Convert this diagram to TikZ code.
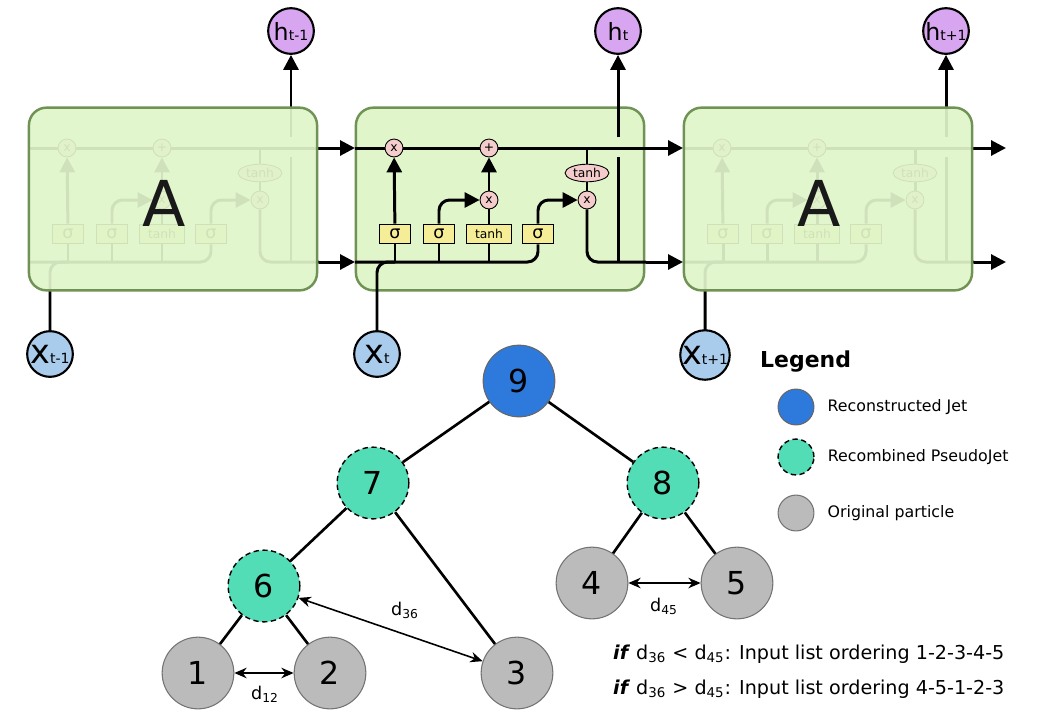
\documentclass[tikz,border=0pt]{standalone}
\usepackage{fontspec}
\setmainfont{DejaVu Sans}
\usetikzlibrary{arrows.meta,positioning,calc,shapes.geometric}
\definecolor{cellgreen}{RGB}{224,245,202}
\definecolor{celledge}{RGB}{112,146,84}
\definecolor{gateyellow}{RGB}{246,238,150}
\definecolor{oppink}{RGB}{244,204,204}
\definecolor{hpurple}{RGB}{216,166,240}
\definecolor{xblue}{RGB}{170,204,236}
\definecolor{jetblue}{RGB}{46,122,220}
\definecolor{pseudoteal}{RGB}{82,221,182}
\definecolor{partgray}{RGB}{187,187,187}

% one LSTM repeating module: #1 name prefix, #2 horizontal shift (px)
\newcommand{\lstmparts}[2]{%
  \begin{scope}[shift={(#2,0)}]
    \node[gatebox] (#1-f) at (395,234) {σ};
    \node[gatebox] (#1-i) at (439,234) {σ};
    \node[gatebox,minimum width=26pt,font=\fontsize{7}{7}\selectfont] (#1-g) at (489,234) {tanh};
    \node[gatebox] (#1-o) at (538,234) {σ};
    \node[opnode] (#1-mf) at (394,148) {x};
    \node[opnode] (#1-add) at (489,148) {+};
    \node[opnode] (#1-mi) at (489,200) {x};
    \node[opnode] (#1-mo) at (587,200) {x};
    \node[opell] (#1-th) at (587,173) {tanh};
    \coordinate (#1-cin) at (355,148);
    \coordinate (#1-cout) at (646,148);
    \coordinate (#1-hin) at (355,262);
    \coordinate (#1-hout) at (646,262);
    \coordinate (#1-hbot) at (618,262);
    \coordinate (#1-up) at (618,157);
    \coordinate (#1-top) at (618,137);
    \draw[lstmline] (#1-cin) -- (#1-mf) -- (#1-add) -- (#1-cout);
    \draw[lstmline,rounded corners=6pt] (#1-hin) -| (#1-o.south);
    \foreach \g in {f,i,g}{\draw[lstmline] (#1-\g.south) -- (#1-\g.south |- #1-hin);}
    \draw[lstmarrow] (#1-f) -- (#1-mf);
    \draw[lstmarrow,rounded corners=6pt] (#1-i.north) |- (#1-mi);
    \draw[lstmline] (#1-g) -- (#1-mi);
    \draw[lstmarrow] (#1-mi) -- (#1-add);
    \draw[lstmarrow,rounded corners=6pt] (#1-o.north) |- (#1-mo);
    \draw[lstmline] (#1-th.north) -- (#1-th.north |- #1-cin);
    \draw[lstmline] (#1-th) -- (#1-mo);
    \draw[lstmline,rounded corners=6pt] (#1-mo.south) |- (#1-hout);
    \draw[lstmline] (#1-hbot) -- (#1-up);
  \end{scope}}

\begin{document}
\begin{tikzpicture}[x=0.02cm,y=-0.02cm,
  lstmline/.style={line width=1.7pt},
  lstmarrow/.style={line width=1.7pt,-{Triangle[length=8.5pt,width=8.5pt]}},
  gatebox/.style={draw,line width=0.5pt,fill=gateyellow,minimum width=18pt,minimum height=11.3pt,inner sep=0pt,font=\fontsize{10}{10}\selectfont},
  opnode/.style={circle,draw,line width=0.5pt,fill=oppink,minimum size=10.2pt,inner sep=0pt,font=\fontsize{7}{7}\selectfont},
  opell/.style={ellipse,draw,line width=0.5pt,fill=oppink,minimum width=25pt,minimum height=10pt,inner sep=0pt,font=\fontsize{7}{7}\selectfont},
  cellbox/.style={draw=celledge,line width=1.4pt,fill=cellgreen,rounded corners=10pt,minimum width=164pt,minimum height=104pt,inner sep=0pt},
  hnode/.style={circle,draw,line width=1.2pt,fill=hpurple,minimum size=26pt,inner sep=0pt,font=\fontsize{13.5}{13.5}\selectfont},
  xnode/.style={circle,draw,line width=1.2pt,fill=xblue,minimum size=26pt,inner sep=0pt,font=\fontsize{19}{19}\selectfont},
  treenode/.style={circle,minimum size=40.8pt,inner sep=0pt,font=\fontsize{18}{18}\selectfont},
  jet/.style={treenode,fill=jetblue,draw=black!60,line width=0.6pt},
  pseudo/.style={treenode,fill=pseudoteal,draw=black,line width=0.8pt,dash pattern=on 3pt off 2pt},
  particle/.style={treenode,fill=partgray,draw=black!55,line width=0.6pt},
  treeedge/.style={line width=1.5pt},
  distarrow/.style={line width=0.9pt,{Stealth[length=7pt,width=6pt]}-{Stealth[length=7pt,width=6pt]}},
  legtext/.style={anchor=west,font=\fontsize{9}{9}\selectfont}]
  \useasboundingbox (0,0) rectangle (1055,711);

  % inputs and outputs
  \node[hnode] (hL) at (291,31) {h{\fontsize{8}{8}\selectfont t-1}};
  \node[hnode] (hM) at (618,31) {h{\fontsize{8}{8}\selectfont t}};
  \node[hnode] (hR) at (946,31) {h{\fontsize{8}{8}\selectfont t+1}};

  % left module (faded)
  \lstmparts{L}{-327}
  \draw[lstmarrow] (L-top) -- (hL);
  \coordinate (L-xin) at (50,331);
  \draw[lstmline,rounded corners=6pt] (L-xin) |- (L-f.south |- L-hin);
  \node[cellbox,fill opacity=0.92] (Lbox) at (173,199) {};
  \node[font=\fontsize{36}{36}\selectfont,text=black!90] (LA) at (164,203) {A};

  % middle module
  \node[cellbox] (Mbox) at (500,199) {};
  \lstmparts{M}{0}
  \draw[lstmarrow] (M-top) -- (hM);
  \coordinate (M-xin) at (377,331);
  \draw[lstmline,rounded corners=6pt] (M-xin) |- (M-f.south |- M-hin);

  % right module (faded)
  \lstmparts{R}{328}
  \draw[lstmarrow] (R-top) -- (hR);
  \coordinate (R-xin) at (705,332);
  \draw[lstmline,rounded corners=6pt] (R-xin) |- (R-f.south |- R-hin);
  \node[cellbox,fill opacity=0.92] (Rbox) at (828,199) {};
  \node[font=\fontsize{36}{36}\selectfont,text=black!90] (RA) at (819,203) {A};

  \node[xnode] (xL) at (50,354) {x{\fontsize{8}{8}\selectfont t-1}};
  \node[xnode] (xM) at (377,354) {x{\fontsize{8}{8}\selectfont t}};
  \node[xnode] (xR) at (705,355) {x{\fontsize{8}{8}\selectfont t+1}};

  \coordinate (cend) at (1006,148);
  \coordinate (hend) at (1006,262);
  \foreach \a/\b in {L/M,M/R}{
    \draw[lstmarrow] (\a-cout) -- (\b-cin);
    \draw[lstmarrow] (\a-hout) -- (\b-hin);}
  \draw[lstmarrow] (R-cout) -- (cend);
  \draw[lstmarrow] (R-hout) -- (hend);

  % clustering tree
  \node[jet] (n9) at (519,381) {9};
  \node[pseudo] (n7) at (373,483) {7};
  \node[pseudo] (n8) at (663,483) {8};
  \node[pseudo] (n6) at (264,586) {6};
  \node[particle] (n1) at (198,673) {1};
  \node[particle] (n2) at (330,673) {2};
  \node[particle] (n3) at (517,673) {3};
  \node[particle] (n4) at (592,583) {4};
  \node[particle] (n5) at (737,583) {5};
  \foreach \a/\b in {n9/n7,n9/n8,n7/n6,n7/n3,n6/n1,n6/n2,n8/n4,n8/n5}{\draw[treeedge] (\a) -- (\b);}
  \draw[distarrow] (n1) -- (n2);
  \draw[distarrow] (n6) -- (n3);
  \draw[distarrow] (n4) -- (n5);
  \node[font=\fontsize{10}{10}\selectfont] (d12) at (265,694) {d\textsubscript{12}};
  \node[font=\fontsize{10}{10}\selectfont] (d36) at (405,610) {d\textsubscript{36}};
  \node[font=\fontsize{10}{10}\selectfont] (d45) at (664,606) {d\textsubscript{45}};

  % legend
  \node[anchor=west,font=\bfseries\fontsize{12.5}{12.5}\selectfont] (legend) at (754,362) {Legend};
  \node[jet,minimum size=20.4pt] (lg1) at (796,407) {};
  \node[pseudo,minimum size=20.4pt] (lg2) at (796,457) {};
  \node[particle,minimum size=20.4pt] (lg3) at (796,513) {};
  \node[legtext,right=4pt of lg1] (lt1) {Reconstructed Jet};
  \node[legtext,right=4pt of lg2] (lt2) {Recombined PseudoJet};
  \node[legtext,right=4pt of lg3] (lt3) {Original particle};

  % ordering rule
  \node[anchor=west,font=\fontsize{10.9}{10.9}\selectfont] (rule1) at (607,654) {\textbf{\textit{if}} d\textsubscript{36} < d\textsubscript{45}: Input list ordering 1-2-3-4-5};
  \node[anchor=west,font=\fontsize{10.9}{10.9}\selectfont] (rule2) at (607,689) {\textbf{\textit{if}} d\textsubscript{36} > d\textsubscript{45}: Input list ordering 4-5-1-2-3};
\end{tikzpicture}
\end{document}
